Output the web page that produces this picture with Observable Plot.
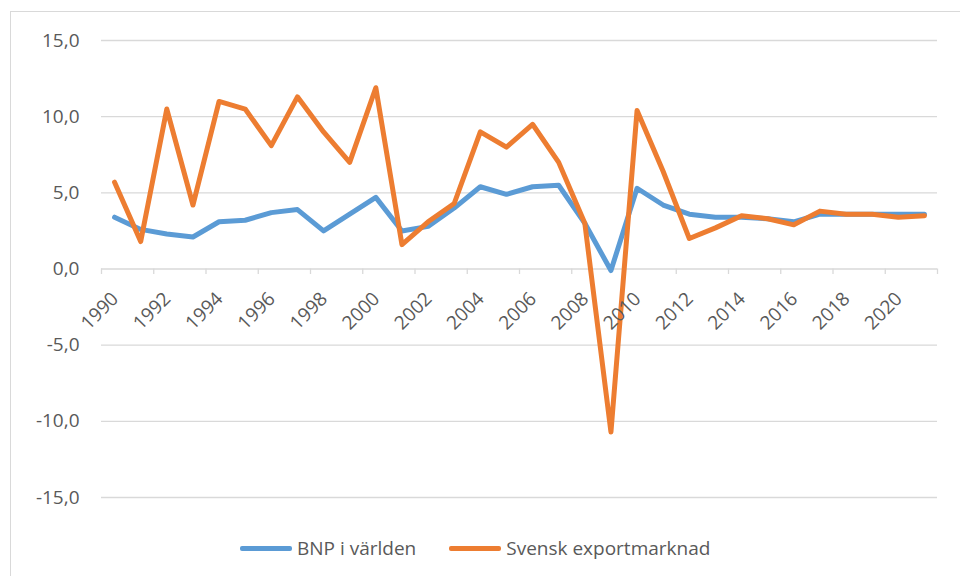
<!DOCTYPE html>
<html>
<head>
<meta charset="utf-8">
<script src="https://cdn.jsdelivr.net/npm/d3@7"></script>
<script src="https://cdn.jsdelivr.net/npm/@observablehq/plot@0.6"></script>
<style>
  body { margin: 0; background: #fff; }
  #wrap { position: relative; width: 960px; height: 576px; overflow: hidden; background: #fff; font-family: "Open Sans", sans-serif; }
  #frame { position: absolute; left: 10px; top: 11px; width: 980px; height: 600px; border: 1.5px solid #d9d9d9; box-sizing: border-box; }
  #chart { position: absolute; left: 0; top: 0; }
  #legend { position: absolute; left: 240px; top: 533px; height: 30px; display: flex; align-items: center; font-size: 19px; color: #595959; white-space: nowrap; }
  .sw { width: 52px; height: 5px; border-radius: 2px; margin-right: 5px; }
  .item { display: flex; align-items: center; }
</style>
</head>
<body>
<div id="wrap">
  <div id="frame"></div>
  <div id="chart"></div>
  <div id="legend"></div>
</div>
<script>
const years = d3.range(1990, 2022);
const bnpVarlden = [3.4, 2.6, 2.3, 2.1, 3.1, 3.2, 3.7, 3.9, 2.5, 3.6, 4.7, 2.5, 2.8, 4.0, 5.4, 4.9, 5.4, 5.5, 3.0, -0.1, 5.3, 4.2, 3.6, 3.4, 3.4, 3.3, 3.1, 3.6, 3.6, 3.6, 3.6, 3.6];
const svenskExport = [5.7, 1.8, 10.5, 4.2, 11.0, 10.5, 8.1, 11.3, 9.0, 7.0, 11.9, 1.6, 3.1, 4.3, 9.0, 8.0, 9.5, 7.0, 3.0, -10.7, 10.4, 6.4, 2.0, 2.7, 3.5, 3.3, 2.9, 3.8, 3.6, 3.6, 3.4, 3.5];
const seriesNames = ["BNP i världen", "Svensk exportmarknad"];
const seriesColors = ["#5b9bd5", "#ed7d31"];
const yTicks = [-15, -10, -5, 0, 5, 10, 15];
const labelYears = years.filter((y, i) => i % 2 === 0);

const bnpData = years.map((y, i) => ({year: y, value: bnpVarlden[i]}));
const expData = years.map((y, i) => ({year: y, value: svenskExport[i]}));
const boundaries = labelYears.map(y => y - 0.5).concat([years[years.length - 1] + 0.5]);

const fmt = d => d.toFixed(1).replace(".", ",");

const chart = Plot.plot({
  width: 960,
  height: 520,
  marginLeft: 101,
  marginRight: 23,
  marginTop: 40,
  marginBottom: 23,
  style: { fontFamily: "Open Sans, sans-serif", fontSize: "19px", color: "#595959", background: "transparent", overflow: "visible" },
  x: { type: "linear", domain: [1989.5, 2021.5], axis: null },
  y: { domain: [-15, 15], axis: null },
  marks: [
    Plot.gridY(yTicks, { stroke: "#d9d9d9", strokeOpacity: 1, strokeWidth: 1.3 }),
    Plot.ruleX(boundaries, { x: d => d, y1: 0, y2: -0.36, stroke: "#d9d9d9", strokeWidth: 1.3 }),
    Plot.axisY(yTicks, { label: null, tickSize: 0, tickPadding: 22, tickFormat: fmt, fontSize: 19, fill: "#595959" }),
    Plot.line(bnpData, { x: "year", y: "value", stroke: seriesColors[0], strokeWidth: 5 }),
    Plot.line(expData, { x: "year", y: "value", stroke: seriesColors[1], strokeWidth: 5 }),
    Plot.text(labelYears, { x: d => d, y: 0, text: d => String(d), rotate: -45, textAnchor: "end", lineAnchor: "bottom", dx: 5, dy: 31, fontSize: 19, fill: "#595959" })
  ]
});
document.getElementById("chart").appendChild(chart);

const legend = document.getElementById("legend");
seriesNames.forEach((name, i) => {
  const item = document.createElement("div");
  item.className = "item";
  if (i > 0) item.style.marginLeft = "33px";
  const sw = document.createElement("div");
  sw.className = "sw";
  sw.style.background = seriesColors[i];
  const t = document.createElement("span");
  t.textContent = name;
  item.appendChild(sw);
  item.appendChild(t);
  legend.appendChild(item);
});
</script>
</body>
</html>
